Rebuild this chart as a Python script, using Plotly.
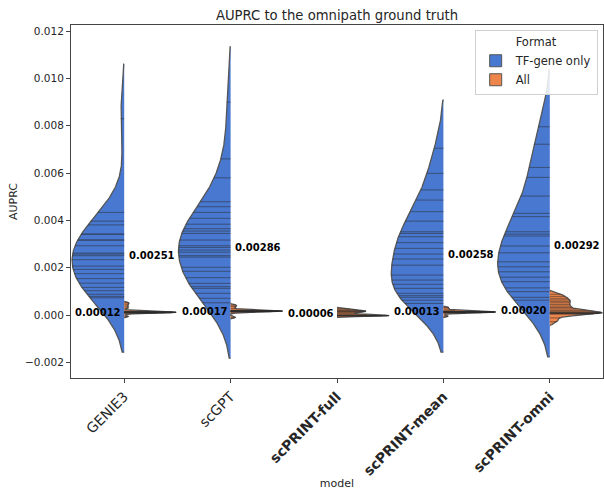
import numpy as np
import plotly.graph_objects as go

# ---- data -------------------------------------------------------------
models = ["GENIE3", "scGPT", "scPRINT-full", "scPRINT-mean", "scPRINT-omni"]
tick_labels = ["GENIE3", "scGPT", "<b>scPRINT-full</b>",
               "<b>scPRINT-mean</b>", "<b>scPRINT-omni</b>"]
formats = ["TF-gene only", "All"]

# AUPRC per dataset, TF-gene only edges
tf_genie3 = [0.0083, 0.00434, 0.00397, 0.00381, 0.00342, 0.00342, 0.00317, 0.00317,
             0.00293, 0.00262, 0.00258, 0.00251, 0.00234, 0.00207, 0.00193, 0.00175,
             0.00154, 0.00135, 0.00117, 0.00103, 0.00088, 0.00079, 0.00073]
tf_scgpt = [0.0090, 0.0066, 0.0058, 0.00479, 0.00458, 0.00434, 0.00409, 0.00384,
            0.00365, 0.00355, 0.00345, 0.00317, 0.00293, 0.00286, 0.00275, 0.00266,
            0.00251, 0.00245, 0.00202, 0.00185, 0.00158, 0.00134, 0.00120, 0.00113,
            0.00092, 0.00071, 0.00052]
tf_scprint_full = []
tf_scprint_mean = [0.00705, 0.00599, 0.00529, 0.00486, 0.00437, 0.00397, 0.00352,
                   0.00345, 0.00331, 0.00306, 0.00282, 0.00258, 0.00237, 0.00211,
                   0.00169, 0.00148, 0.00130, 0.00113, 0.00092, 0.00082, 0.00075,
                   0.00063, 0.00049]
tf_scprint_omni = [0.00796, 0.00722, 0.00624, 0.00582, 0.00503, 0.00430, 0.00416,
                   0.00352, 0.00342, 0.00334, 0.00292, 0.00263, 0.00225, 0.00204,
                   0.00183, 0.00160, 0.00141, 0.00115, 0.00099, 0.00075, 0.00063]

# AUPRC per dataset, all edges
all_genie3 = [-0.00006, 0.00008, 0.00009, 0.00010, 0.00010, 0.00010, 0.00011, 0.00011,
              0.00011, 0.00012, 0.00012, 0.00012, 0.00013, 0.00013, 0.00014, 0.00015,
              0.00016, 0.00030, 0.00038, 0.00046, 0.00052]
all_scgpt = [-0.00010, 0.00012, 0.00014, 0.00015, 0.00015, 0.00016, 0.00016, 0.00017,
             0.00017, 0.00017, 0.00018, 0.00018, 0.00019, 0.00021, 0.00028, 0.00036,
             0.00042]
all_scprint_full = [-0.00004, -0.00003, -0.00003, -0.00002, -0.00002, -0.00001, 0.00002,
                    0.00006, 0.00010, 0.00013, 0.00015, 0.00017, 0.00019, 0.00022,
                    0.00026]
all_scprint_mean = [-0.00005, 0.00008, 0.00010, 0.00011, 0.00012, 0.00012, 0.00013,
                    0.00013, 0.00013, 0.00013, 0.00014, 0.00014, 0.00015, 0.00016,
                    0.00020, 0.00026, 0.00032]
all_scprint_omni = [-0.00028, -0.00012, 0.00004, 0.00006, 0.00007, 0.00008, 0.00009,
                    0.00010, 0.00012, 0.00016, 0.00020, 0.00026, 0.00032, 0.00038,
                    0.00045, 0.00052, 0.00058, 0.00064, 0.00071, 0.00079, 0.00088]

tf_values = [tf_genie3, tf_scgpt, tf_scprint_full, tf_scprint_mean, tf_scprint_omni]
all_values = [all_genie3, all_scgpt, all_scprint_full, all_scprint_mean, all_scprint_omni]

# ---- style ------------------------------------------------------------
FONT = "DejaVu Sans"
COLORS = {"TF-gene only": "#4878d0", "All": "#ee854a"}
EDGE = "#555555"
STICK = "rgba(45,45,45,0.55)"
HALF_WIDTH = 0.49          # max half-width of each violin side (category units)
CUT = 2                    # KDE support extends CUT bandwidths past the data
bandwidth = {"TF-gene only": [0.00115, 0.00117, None, 0.00103, 0.00120],
             "All": [0.00003, 0.00003, 0.00003, 0.00003, 0.00008]}


def kde(data, bw, grid):
    data = np.asarray(data)
    z = (grid[:, None] - data[None, :]) / bw
    return np.exp(-0.5 * z ** 2).sum(axis=1)


fig = go.Figure()

# legend entries drawn as boxed patches
for fmt in formats:
    fig.add_trace(go.Bar(x=[None], y=[None], name=fmt,
                         marker=dict(color=COLORS[fmt], line=dict(color=EDGE, width=1)),
                         showlegend=True, hoverinfo="skip"))

for i, model in enumerate(models):
    for fmt, values in (("TF-gene only", tf_values[i]), ("All", all_values[i])):
        if len(values) == 0:
            continue
        bw = bandwidth[fmt][i]
        sign = -1 if fmt == "TF-gene only" else 1
        v = np.asarray(values, dtype=float)
        grid = np.linspace(v.min() - CUT * bw, v.max() + CUT * bw, 300)
        dens = kde(v, bw, grid)
        scale = HALF_WIDTH / dens.max()

        xs = np.concatenate([[i], i + sign * dens * scale, [i]])
        ys = np.concatenate([[grid[0]], grid, [grid[-1]]])
        fig.add_trace(go.Scatter(
            x=xs, y=ys, mode="lines", fill="toself",
            fillcolor=COLORS[fmt], line=dict(color=EDGE, width=1.3),
            name=fmt, showlegend=False, hoverinfo="skip"))

        # one stick per observation, spanning to the density edge
        d_pts = kde(v, bw, v) * scale
        sx, sy = [], []
        for val, d in zip(v, d_pts):
            sx += [i, i + sign * d, None]
            sy += [val, val, None]
        fig.add_trace(go.Scatter(x=sx, y=sy, mode="lines",
                                 line=dict(color=STICK, width=1),
                                 showlegend=False, hoverinfo="skip"))

# median labels
for i, model in enumerate(models):
    if len(tf_values[i]):
        med = float(np.median(tf_values[i]))
        fig.add_annotation(x=i + 0.26, y=med, text=f"<b>{med:.5f}</b>",
                           showarrow=False, font=dict(family=FONT, size=10, color="black"))
    if len(all_values[i]):
        med = float(np.median(all_values[i]))
        fig.add_annotation(x=i - 0.245, y=med, text=f"<b>{med:.5f}</b>",
                           showarrow=False, font=dict(family=FONT, size=10, color="black"))

fig.update_layout(
    width=604, height=490,
    margin=dict(l=71, r=1, t=25, b=112),
    paper_bgcolor="white", plot_bgcolor="white",
    font=dict(family=FONT, size=11, color="#262626"),
    title=dict(text="AUPRC to the omnipath ground truth", x=0.5, xref="paper",
               xanchor="center", y=1, yref="paper", yanchor="bottom", pad=dict(b=5),
               font=dict(family=FONT, size=13.2, color="#262626")),
    showlegend=True,
    legend=dict(x=0.99, y=0.985, xanchor="right", yanchor="top",
                bgcolor="rgba(255,255,255,0.85)", bordercolor="#d0d0d0", borderwidth=1,
                title=dict(text="Format", side="top center",
                           font=dict(family=FONT, size=11.5)),
                font=dict(family=FONT, size=11.5), tracegroupgap=0, itemwidth=30),
)
fig.update_xaxes(range=[-0.5, 4.5], tickmode="array", tickvals=list(range(len(models))),
                 ticktext=tick_labels, tickangle=-45, tickfont=dict(size=14, color="#262626"),
                 ticks="outside", ticklen=4, tickcolor="#444", showgrid=False, zeroline=False,
                 showline=True, linecolor="#444", linewidth=1, mirror=True,
                 title=dict(text="model", font=dict(size=11), standoff=4))
fig.update_yaxes(range=[-0.00266, 0.01226], tickmode="array",
                 tickvals=[-0.002, 0, 0.002, 0.004, 0.006, 0.008, 0.010, 0.012],
                 ticktext=["\u22120.002", "0.000", "0.002", "0.004", "0.006", "0.008",
                           "0.010", "0.012"],
                 tickfont=dict(size=10.5, color="#262626"),
                 ticks="outside", ticklen=4, tickcolor="#444", showgrid=False, zeroline=False,
                 showline=True, linecolor="#444", linewidth=1, mirror=True,
                 title=dict(text="AUPRC", font=dict(size=11), standoff=5))

fig.write_html("out.html")
